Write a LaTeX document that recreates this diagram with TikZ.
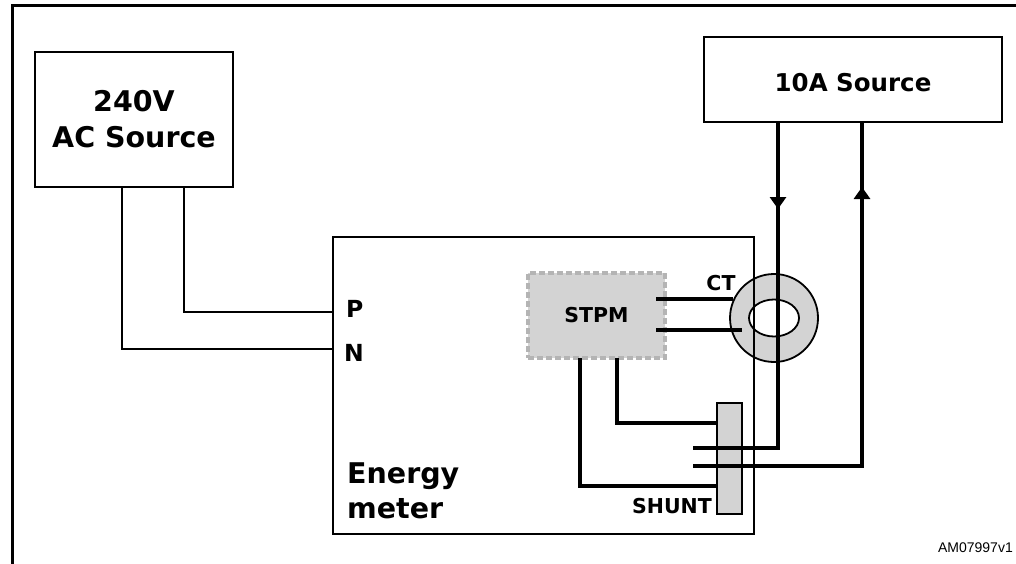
\documentclass[tikz,border=0pt]{standalone}
\usepackage{fontspec}
\setmainfont{DejaVu Sans}
\newfontfamily\codefont{Liberation Sans}
\usetikzlibrary{arrows.meta}

\definecolor{partgray}{HTML}{D3D3D3}
\definecolor{dashgray}{HTML}{B4B4B4}

\tikzset{
  srcbox/.style={draw, line width=2pt, align=center, inner sep=0pt},
  partbox/.style={draw, fill=partgray, line width=1.8pt, inner sep=0pt},
  chipbox/.style={fill=partgray, draw=dashgray, line width=3.5pt,
    dash pattern=on 6pt off 3pt, inner sep=0pt},
  thinwire/.style={line width=2pt},
  heavywire/.style={line width=4.5pt},
  flowtip/.style={heavywire, -{Triangle[length=12pt,width=16pt]}},
  lbl/.style={inner sep=0pt, font=\bfseries\fontsize{20.5}{24}\selectfont}
}

\begin{document}
\begin{tikzpicture}[x=1pt, y=-1pt]
\useasboundingbox (0,0) rectangle (1016,564);

% frame
\draw[line width=3pt] (12,564) -- (12,6) -- (1016,6);

% sources
\node[srcbox, minimum width=198pt, minimum height=135pt,
  font=\bfseries\fontsize{28.5}{36}\selectfont] (ac) at (134,119.5) {240V\\AC Source};
\node[srcbox, minimum width=298pt, minimum height=85pt, text height=25pt,
  font=\bfseries\fontsize{24.5}{28}\selectfont] (amp) at (853,79.5) {10A Source};

% current transformer
\node[partbox, circle, minimum size=88pt] (ct) at (774,318) {};
\draw[fill=white, line width=1.8pt] (ct.center) ellipse [x radius=25, y radius=18.5];

% meter, chip and shunt
\node[draw, line width=2.2pt, minimum width=421pt, minimum height=297pt] (meter) at (543.5,385.5) {};
\node[chipbox, minimum width=137pt, minimum height=85pt,
  font=\bfseries\fontsize{20.5}{24}\selectfont] (stpm) at (596.5,315.5) {STPM};
\node[partbox, minimum width=25pt, minimum height=111pt] (shunt) at (729.5,458.5) {};

% pins
\coordinate (acN) at (122,187);
\coordinate (acP) at (184,187);
\coordinate (pinP) at (333,312);
\coordinate (pinN) at (333,349);
\coordinate (ampL) at (778,122);
\coordinate (ampR) at (862,122);
\coordinate (downTip) at (778,209);
\coordinate (upFrom) at (862,260);
\coordinate (upTip) at (862,187);
\coordinate (shL) at (693,448);
\coordinate (shR) at (693,466);
\coordinate (stA) at (656,299);
\coordinate (stB) at (656,330);
\coordinate (ctA) at (733,299);
\coordinate (ctB) at (742,330);
\coordinate (stC) at (580,358);
\coordinate (stD) at (617,358);
\coordinate (shA) at (717,423);
\coordinate (shB) at (717,486);

% mains wiring
\draw[thinwire] (acP) |- (pinP);
\draw[thinwire] (acN) |- (pinN);

% current loop
\draw[heavywire] (ampL) |- (shL);
\draw[heavywire] (ampR) |- (shR);
\draw[flowtip] (ampL) -- (downTip);
\draw[flowtip] (upFrom) -- (upTip);

% sensing wires
\draw[heavywire] (stA) -- (ctA);
\draw[heavywire] (stB) -- (ctB);
\draw[heavywire] (stD) |- (shA);
\draw[heavywire] (stC) |- (shB);

% labels
\node[lbl, font=\bfseries\fontsize{23.5}{28}\selectfont, anchor=base west] (lblP) at (346,317) {P};
\node[lbl, font=\bfseries\fontsize{23.5}{28}\selectfont, anchor=base west] (lblN) at (344,361) {N};
\node[lbl, anchor=base] (lblCT) at (721,290) {CT};
\node[lbl, anchor=base east] (lblShunt) at (712,513) {SHUNT};
\node[lbl, anchor=west, align=left, font=\bfseries\fontsize{28.5}{35}\selectfont] (lblMeter) at (347,491) {Energy\\meter};
\node[inner sep=0pt, anchor=east, font=\codefont\fontsize{14}{16}\selectfont] (tag) at (1013,548) {AM07997v1};

\end{tikzpicture}
\end{document}
